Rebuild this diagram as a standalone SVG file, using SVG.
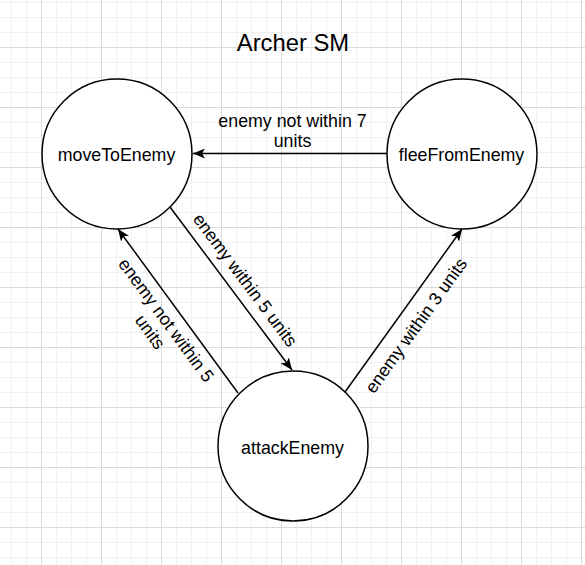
<svg xmlns="http://www.w3.org/2000/svg" width="585" height="565" viewBox="0 0 585 565">
  <defs>
    <pattern id="grid" patternUnits="userSpaceOnUse" x="41" y="47" width="60" height="60">
      <path d="M15.5,0V60M30.5,0V60M45.5,0V60M0,15.5H60M0,30.5H60M0,45.5H60" stroke="#f1f1f1" stroke-width="1" fill="none"/>
      <path d="M0.5,0V60M0,0.5H60" stroke="#dadada" stroke-width="1" fill="none"/>
    </pattern>
    <marker id="arrow" markerUnits="userSpaceOnUse" viewBox="0 0 12 10" refX="12" refY="5" markerWidth="12" markerHeight="10" orient="auto">
      <path d="M0,0 L12,5 L0,10 L3,5 Z" fill="#000"/>
    </marker>
    <style>
      .node { fill: #ffffff; stroke: #000000; stroke-width: 1.5; }
      .edge { fill: none; stroke: #000000; stroke-width: 1.5; marker-end: url(#arrow); }
      text { font-family: "Liberation Sans", Arial, Helvetica, sans-serif; fill: #000000; }
      .lbl { font-size: 17.8px; text-anchor: middle; }
      .title { font-size: 23.8px; text-anchor: middle; }
    </style>
  </defs>
  <rect x="0" y="0" width="585" height="565" fill="#ffffff"/>
  <rect x="0" y="0" width="585" height="565" fill="url(#grid)"/>

  <text class="title" x="293" y="51">Archer SM</text>

  <g id="connectors">
    <g id="edge-flee-move">
      <line class="edge" x1="387" y1="153.5" x2="193" y2="153.5"/>
      <text class="lbl" x="292.5" y="126.7">enemy not within 7<tspan x="292.5" dy="20">units</tspan></text>
    </g>
    <g id="edge-move-attack">
      <line class="edge" x1="170" y1="207" x2="292" y2="370"/>
      <text class="lbl" transform="translate(240.4,283.7) rotate(53.2)" x="0" y="0">enemy within 5 units</text>
    </g>
    <g id="edge-attack-move">
      <line class="edge" x1="238" y1="393" x2="118" y2="229"/>
      <text class="lbl" transform="translate(161.4,323.7) rotate(53.8)" x="0" y="0">enemy not within 5<tspan x="0" dy="20">units</tspan></text>
    </g>
    <g id="edge-attack-flee">
      <line class="edge" x1="345" y1="392" x2="462" y2="229"/>
      <text class="lbl" transform="translate(421,329) rotate(-54.3)" x="0" y="0">enemy within 3 units</text>
    </g>
  </g>

  <g id="moveToEnemy">
    <circle class="node" cx="117" cy="154" r="75"/>
    <text class="lbl" x="116.5" y="161">moveToEnemy</text>
  </g>
  <g id="fleeFromEnemy">
    <circle class="node" cx="462" cy="154" r="75"/>
    <text class="lbl" x="461.5" y="161">fleeFromEnemy</text>
  </g>
  <g id="attackEnemy">
    <circle class="node" cx="293" cy="446" r="75"/>
    <text class="lbl" x="292.5" y="454">attackEnemy</text>
  </g>
</svg>
